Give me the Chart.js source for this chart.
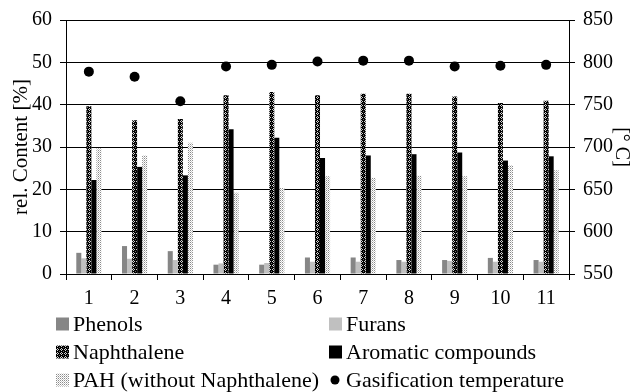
<!DOCTYPE html>
<html>
<head>
<meta charset="utf-8">
<script src="https://cdn.jsdelivr.net/npm/chart.js@4.4.1/dist/chart.umd.min.js"></script>
<style>
  html, body { margin: 0; padding: 0; background: #fff; }
</style>
</head>
<body>
<canvas id="tarChart" width="633" height="392"></canvas>
<script>
const categories = ['1', '2', '3', '4', '5', '6', '7', '8', '9', '10', '11'];
const phenols = [5.0, 6.6, 5.4, 2.2, 2.2, 3.9, 3.9, 3.3, 3.3, 3.8, 3.3];
const furans = [3.7, 3.6, 3.3, 2.5, 2.6, 2.9, 2.9, 2.9, 3.1, 2.9, 2.9];
const naphthalene = [39.6, 36.3, 36.6, 42.2, 43.0, 42.2, 42.6, 42.6, 41.9, 40.4, 40.9];
const aromatics = [22.2, 25.3, 23.3, 34.2, 32.2, 27.4, 28.0, 28.3, 28.7, 26.8, 27.8];
const pah = [29.7, 28.0, 31.0, 19.2, 20.3, 23.1, 22.7, 23.2, 23.1, 25.7, 24.5];
const temperature = [789, 783, 754, 795, 797, 801, 802, 802, 795, 796, 797];

const FONT = '"Liberation Serif", "Times New Roman", serif';

// small pixel patterns for the hatched bars
function makePattern(size, bg, pixels) {
  const c = document.createElement('canvas');
  c.width = size; c.height = size;
  const g = c.getContext('2d');
  g.fillStyle = bg;
  g.fillRect(0, 0, size, size);
  pixels.forEach(p => { g.fillStyle = p[2]; g.fillRect(p[0], p[1], 1, 1); });
  return g.createPattern(c, 'repeat');
}
const canvas = document.getElementById('tarChart');
const ctx = canvas.getContext('2d');
const naphPattern = makePattern(4, '#000', [
  [1, 0, '#d0d0d0'], [0, 1, '#d0d0d0'], [2, 1, '#d0d0d0'], [1, 2, '#d0d0d0'], [3, 3, '#707070']
]);
const pahPattern = makePattern(2, '#fff', [[0, 0, '#8a8a8a'], [1, 1, '#c8c8c8']]);

// legend drawn in two columns like the original
const legendPlugin = {
  id: 'twoColLegend',
  afterDraw(chart) {
    const c = chart.ctx;
    const ds = chart.data.datasets;
    const cols = [56, 329];
    const rows = [324, 352, 380];
    c.save();
    c.font = '22px ' + FONT;
    c.textBaseline = 'middle';
    ds.forEach((d, i) => {
      const x = cols[i % 2], y = rows[Math.floor(i / 2)];
      if (d.type === 'line') {
        c.beginPath();
        c.arc(x + 6, y, 4.5, 0, Math.PI * 2);
        c.fillStyle = '#000';
        c.fill();
      } else {
        c.fillStyle = d.backgroundColor;
        c.fillRect(x, y - 6.5, 13, 13);
      }
      c.fillStyle = '#000';
      c.fillText(d.label, x + 17, y + 1);
    });
    c.restore();
  }
};

new Chart(ctx, {
  type: 'bar',
  data: {
    labels: categories,
    datasets: [
      { label: 'Phenols', data: phenols, backgroundColor: '#868686' },
      { label: 'Furans', data: furans, backgroundColor: '#c0c0c0' },
      { label: 'Naphthalene', data: naphthalene, backgroundColor: naphPattern },
      { label: 'Aromatic compounds', data: aromatics, backgroundColor: '#000' },
      { label: 'PAH (without Naphthalene)', data: pah, backgroundColor: pahPattern },
      {
        type: 'line', label: 'Gasification temperature', data: temperature, yAxisID: 'y2',
        showLine: false, pointRadius: 5, pointBackgroundColor: '#000', pointBorderWidth: 0,
        backgroundColor: '#000', borderColor: '#000'
      }
    ]
  },
  options: {
    responsive: false,
    animation: false,
    devicePixelRatio: 1,
    layout: { padding: { top: 16, left: 0, right: 0, bottom: 0 } },
    datasets: { bar: { barPercentage: 1.0, categoryPercentage: 0.55 } },
    plugins: { legend: { display: false }, tooltip: { enabled: false } },
    scales: {
      x: {
        offset: true,
        grid: { offset: true, drawOnChartArea: false, drawTicks: true, tickLength: 6, color: '#000' },
        border: { color: '#000', width: 1 },
        ticks: { color: '#000', font: { family: FONT, size: 20 }, padding: 7, maxRotation: 0 },
        afterFit: s => { s.height = 118; }
      },
      y: {
        position: 'left',
        min: 0, max: 60,
        ticks: { stepSize: 10, color: '#000', font: { family: FONT, size: 20 }, padding: 8 },
        grid: { color: '#000', tickLength: 6 },
        border: { color: '#000', width: 1 },
        title: { display: true, text: 'rel. Content [%]', color: '#000', font: { family: FONT, size: 21 }, padding: { top: 9, bottom: 0 } },
        afterFit: s => { s.width = 66; }
      },
      y2: {
        position: 'right',
        min: 550, max: 850,
        ticks: { stepSize: 50, color: '#000', font: { family: FONT, size: 20 }, padding: 8 },
        grid: { drawOnChartArea: false, color: '#000', tickLength: 6 },
        border: { color: '#000', width: 1 },
        title: { display: true, text: '[° C]', color: '#000', font: { family: FONT, size: 20 }, padding: { top: 0, bottom: 0 } },
        afterFit: s => { s.width = 64; }
      }
    }
  },
  plugins: [legendPlugin]
});
</script>
</body>
</html>
